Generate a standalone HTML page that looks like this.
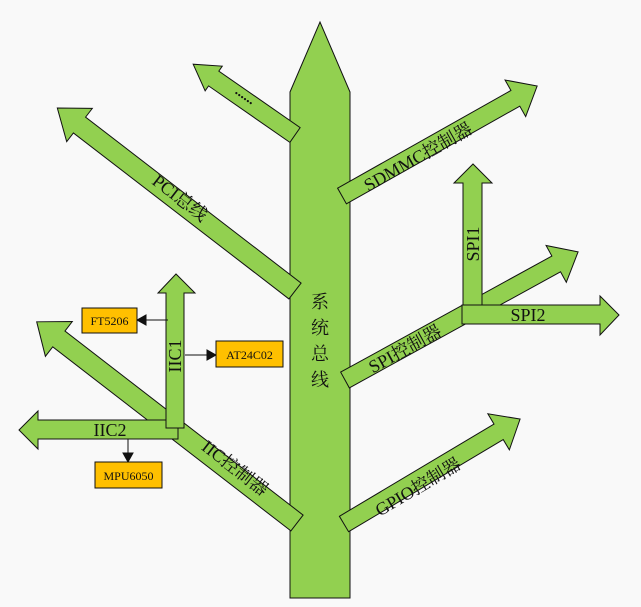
<!DOCTYPE html>
<html><head><meta charset="utf-8"><style>
html,body{margin:0;padding:0;background:#f9f9f9;}
svg{display:block}
text{font-family:"Liberation Serif","Noto Serif CJK SC",serif;fill:#111;}
</style></head><body>
<svg width="641" height="607" viewBox="0 0 641 607" xmlns="http://www.w3.org/2000/svg">
<g fill="#92d050" stroke="#111" stroke-width="1">
<polygon points="290,92 320,22 350,92 350,598 290,598"/>
<g transform="translate(295,135) rotate(214.8)"><polygon points="0,-9 99,-9 99,-15 124,0 99,15 99,9 0,9"/></g>
<g transform="translate(295,291) rotate(217.6)"><polygon points="0,-10 272,-10 272,-21 300,0 272,21 272,10 0,10"/></g>
<g transform="translate(342,196) rotate(-29.4)"><polygon points="0,-9 199,-9 199,-21 224,0 199,21 199,9 0,9"/></g>
<g transform="translate(345,380) rotate(-28.8)"><polygon points="0,-9 241,-9 241,-21 266,0 241,21 241,9 0,9"/></g>
<g transform="translate(344,524) rotate(-30.8)"><polygon points="0,-9 180,-9 180,-21 205,0 180,21 180,9 0,9"/></g>
<g transform="translate(297,523) rotate(217.7)"><polygon points="0,-10 301,-10 301,-22 329,0 301,22 301,10 0,10"/></g>
<polygon points="463,306 463,183 454,183 473,164 492,183 482,183 482,306"/>
<polygon points="462,305 600,305 600,296 619,315 600,335 600,324 462,324"/>
<polygon points="178,420 38,420 38,411 19,430 38,449 38,439 178,439"/>
<polygon points="166,428 166,293 158,293 176,274 195,293 184,293 184,428"/>
</g>
<g stroke="#111" stroke-width="1" fill="#111">
<line x1="168" y1="320" x2="145" y2="320"/><polygon points="137,320 146,315 146,325"/>
<line x1="185" y1="355" x2="208" y2="355"/><polygon points="216,355 207,350 207,360"/>
<line x1="128" y1="439" x2="128" y2="454"/><polygon points="128,462 123,453 133,453"/>
</g>
<g fill="#ffc000" stroke="#111" stroke-width="1">
<rect x="82" y="308" width="55" height="25"/>
<rect x="216" y="341" width="67" height="26"/>
<rect x="95" y="462" width="67" height="26"/>
</g>
<g font-size="12" text-anchor="middle">
<text x="109.5" y="325">FT5206</text>
<text x="249.5" y="359">AT24C02</text>
<text x="128.5" y="480">MPU6050</text>
</g>
<g font-size="18" text-anchor="middle">
<text x="320" y="308">系</text>
<text x="320" y="334">统</text>
<text x="320" y="360">总</text>
<text x="320" y="386">线</text>
</g>
<g font-size="18" text-anchor="middle" dominant-baseline="central">
<text transform="translate(245,96) rotate(34.8)" font-size="14" font-weight="bold">......</text>
<text transform="translate(180,198) rotate(37.6)">PCI总线</text>
<text transform="translate(418,157) rotate(-29.4)">SDMMC控制器</text>
<text transform="translate(405,349) rotate(-28.8)">SPI控制器</text>
<text transform="translate(418,487) rotate(-30.8)">GPIO控制器</text>
<text transform="translate(235,468) rotate(37.7)">IIC控制器</text>
<text transform="translate(175,356) rotate(-90)">IIC1</text>
<text transform="translate(473,244) rotate(-90)">SPI1</text>
<text x="528" y="315">SPI2</text>
<text x="110" y="430">IIC2</text>
</g>
</svg>
</body></html>
